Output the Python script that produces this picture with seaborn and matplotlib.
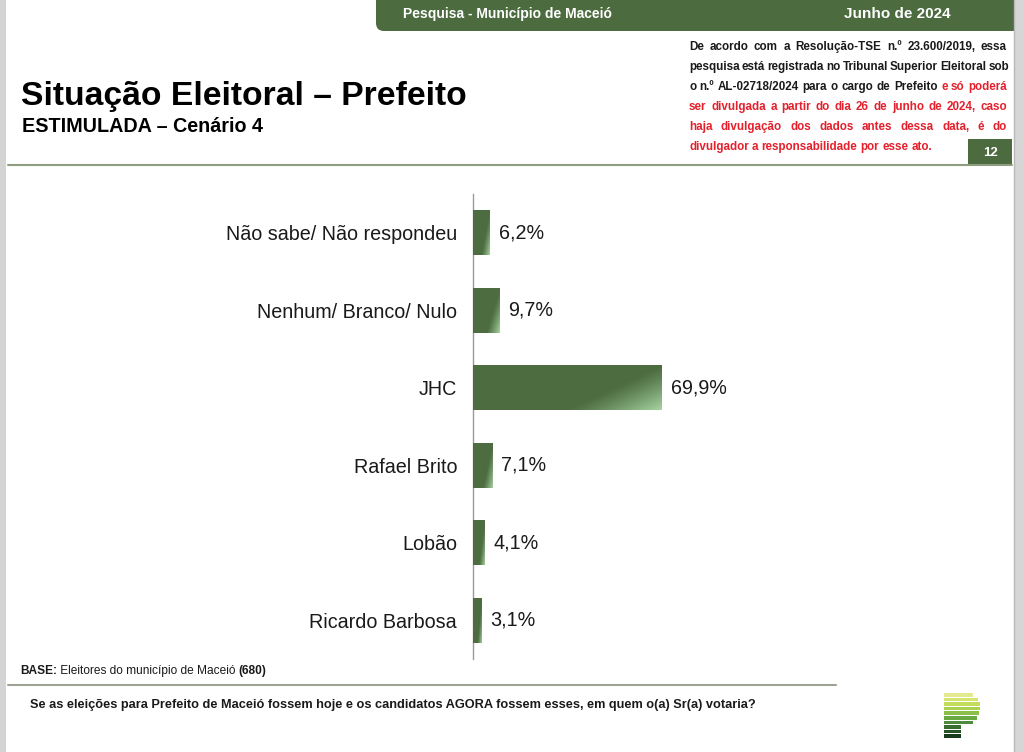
import numpy as np
import pandas as pd
import matplotlib
matplotlib.use("Agg")
import matplotlib.pyplot as plt
import seaborn as sns
from matplotlib.patches import Rectangle, FancyBboxPatch
from matplotlib.colors import to_rgb

# data
categories = ['Não sabe/ Não respondeu', 'Nenhum/ Branco/ Nulo', 'JHC',
              'Rafael Brito', 'Lobão', 'Ricardo Barbosa']
values = [6.2, 9.7, 69.9, 7.1, 4.1, 3.1]
value_labels = ['6,2%', '9,7%', '69,9%', '7,1%', '4,1%', '3,1%']

sns.set_style('white')
plt.rcParams['font.family'] = ['Liberation Sans', 'DejaVu Sans']
NARROW = ['Liberation Sans Narrow', 'Liberation Sans', 'DejaVu Sans']

GREEN = '#4c6b3f'
DARK = to_rgb('#4d6d41')
LIGHT = to_rgb('#a6d3a0')
RED = '#e4202c'
TXT = '#1a1a1a'

W, H = 1024, 752
fig = plt.figure(figsize=(W / 100, H / 100), dpi=100)
fig.patch.set_facecolor('white')

# background axes in pixel coordinates for the slide decoration
bg = fig.add_axes([0, 0, 1, 1])
bg.set_xlim(0, W)
bg.set_ylim(H, 0)
bg.axis('off')
bg.patch.set_alpha(0)

# header band
bg.add_patch(FancyBboxPatch((376, -40), 660, 71,
                            boxstyle='round,pad=0,rounding_size=8',
                            fc=GREEN, ec='none'))
bg.text(507, 14, 'Pesquisa - Município de Maceió', color='white',
        fontsize=10, fontweight='bold', ha='center', va='center')
bg.text(897, 14, 'Junho de 2024', color='white',
        fontsize=11, fontweight='bold', ha='center', va='center')

# slide edges
bg.add_patch(Rectangle((0, 0), 6, H, color='#d4d4d4', lw=0))
bg.add_patch(Rectangle((1014, 0), 10, H, color='#d6d6d6', lw=0))
bg.plot([1014, 1014], [0, H], color='#b8b8b8', lw=1)

# title
bg.text(21, 105, 'Situação Eleitoral – Prefeito', fontsize=24.2,
        fontweight='bold', color='black', ha='left', va='baseline')
bg.text(22, 132, 'ESTIMULADA – Cenário 4', fontsize=14.2,
        fontweight='bold', color='black', ha='left', va='baseline')

# separator and page number
bg.plot([8, 1012], [165, 165], color='#8e9c80', lw=1.5)
bg.add_patch(Rectangle((968, 139), 44, 26, color=GREEN, lw=0))
bg.text(990, 153, '12', color='white', fontsize=9.5, fontweight='bold',
        ha='center', va='center')

# disclaimer text, justified
disc_lines = [
    [('De acordo com a Resolução-TSE n.º 23.600/2019, essa', TXT)],
    [('pesquisa está registrada no Tribunal Superior Eleitoral sob', TXT)],
    [('o n.º AL-02718/2024 para o cargo de Prefeito', TXT), ('e só poderá', RED)],
    [('ser divulgada a partir do dia 26 de junho de 2024, caso', RED)],
    [('haja divulgação dos dados antes dessa data, é do', RED)],
    [('divulgador a responsabilidade por esse ato.', RED)],
]
disc_y = [50, 70, 90, 110, 130, 150]
x_left, x_right = 689, 1007
renderer = fig.canvas.get_renderer()
for k, (parts, yy) in enumerate(zip(disc_lines, disc_y)):
    words = []
    for txt, col in parts:
        for w in txt.split(' '):
            words.append((w, col))
    arts = []
    widths = []
    for w, col in words:
        t = bg.text(0, yy, w, fontsize=8.4, fontweight='bold', color=col,
                    family=NARROW, ha='left', va='baseline')
        arts.append(t)
        widths.append(t.get_window_extent(renderer).width)
    if k < len(disc_lines) - 1:
        gap = max((x_right - x_left - sum(widths)) / (len(words) - 1), 2.2)
    else:
        gap = 3.2
    xx = x_left
    for t, wd in zip(arts, widths):
        t.set_x(xx)
        xx += wd + gap

# footer
b1 = bg.text(20, 671, 'BASE:', fontsize=8.6, fontweight='bold', color=TXT,
             family=NARROW, ha='left', va='center')
b2 = bg.annotate(' Eleitores do município de Maceió ', xy=(1, 0), xycoords=b1,
                 fontsize=8.6, color=TXT, family=NARROW, ha='left', va='bottom')
bg.annotate('(680)', xy=(1, 0), xycoords=b2, fontsize=8.6, fontweight='bold',
            color=TXT, family=NARROW, ha='left', va='bottom')
bg.plot([8, 836], [685, 685], color='#9ca394', lw=1.5)
bg.text(30, 705, 'Se as eleições para Prefeito de Maceió fossem hoje e os candidatos '
        'AGORA fossem esses, em quem o(a) Sr(a) votaria?', fontsize=9.2,
        fontweight='bold', color=TXT, family=NARROW, ha='left', va='center')

# logo
logo_cols = ['#e2e98e', '#d5e46e', '#c4dc5c', '#aad152', '#8cc04a',
             '#6aa842', '#4e8b3a', '#3a6e30', '#2a5428', '#1b3b1d']
logo_right = [973, 978, 980, 980, 979, 977, 973, 961, 961, 961]
for i, (c, r) in enumerate(zip(logo_cols, logo_right)):
    bg.add_patch(Rectangle((944, 693 + i * 4.6), r - 944, 3.6, color=c, lw=0))

# chart
ax = fig.add_axes([473 / W, 1 - 659 / H, 270 / W, 465 / H])
df = pd.DataFrame({'cat': categories, 'val': values})
sns.barplot(data=df, x='val', y='cat', orient='h', color=GREEN, width=0.58,
            saturation=1, ax=ax)

for p in list(ax.patches):
    x0, y0, w, h = p.get_x(), p.get_y(), p.get_width(), p.get_height()
    n, m = 40, 120
    u = np.linspace(0, 1, m)[None, :]
    v = np.linspace(0, 1, n)[:, None]
    s = np.clip((u + 0.5 * v - 1.0) / 0.5, 0, 1) ** 1.2
    img = np.zeros((n, m, 3))
    for c in range(3):
        img[:, :, c] = DARK[c] + (LIGHT[c] - DARK[c]) * s
    im = ax.imshow(img, extent=(x0, x0 + w, y0, y0 + h), origin='lower',
                   aspect='auto', zorder=3, interpolation='bilinear')
    im.set_clip_path(p)

for i, lab in enumerate(value_labels):
    ax.annotate(lab, xy=(values[i], i), xytext=(9, 0), textcoords='offset pixels',
                ha='left', va='center', fontsize=14.2, color=TXT)

ax.set_xlim(0, 100)
ax.set_ylim(5.5, -0.5)
ax.set_xlabel('')
ax.set_ylabel('')
ax.set_xticks([])
ax.set_yticks(range(len(categories)))
ax.set_yticklabels(categories, fontsize=14.2, color=TXT)
ax.set_yticks(np.arange(-0.5, 6, 1), minor=True)
ax.tick_params(axis='y', which='major', length=0, pad=11.5)
ax.tick_params(axis='y', which='minor', length=4, color='#9a9a9a', width=1)
for sp in ['top', 'right', 'bottom']:
    ax.spines[sp].set_visible(False)
ax.spines['left'].set_color('#9a9a9a')
ax.spines['left'].set_linewidth(1)
ax.patch.set_alpha(0)

fig.savefig('out.png', dpi=100)
